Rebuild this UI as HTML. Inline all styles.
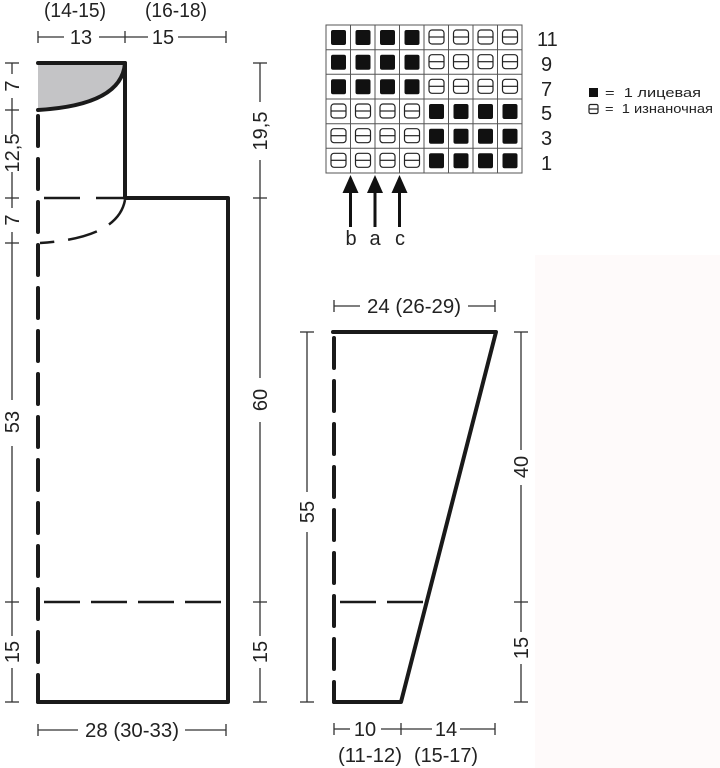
<!DOCTYPE html>
<html><head><meta charset="utf-8"><style>
html,body{margin:0;padding:0;background:#fff;}
svg{display:block;}
text{font-family:"Liberation Sans",sans-serif;fill:#222;}
</style></head><body>
<svg width="720" height="768" viewBox="0 0 720 768" xmlns="http://www.w3.org/2000/svg">
<rect x="535" y="255" width="185" height="513" fill="#fefafa"/>
<g stroke="#333" stroke-width="1.3" fill="none">
<line x1="38" y1="37" x2="64" y2="37"/><line x1="99" y1="37" x2="148" y2="37"/><line x1="178" y1="37" x2="226" y2="37"/>
<line x1="38" y1="31" x2="38" y2="43"/><line x1="125" y1="31" x2="125" y2="43"/><line x1="226" y1="31" x2="226" y2="43"/>
<line x1="12" y1="63" x2="12" y2="74"/><line x1="12" y1="98" x2="12" y2="134"/><line x1="12" y1="172" x2="12" y2="208"/><line x1="12" y1="232" x2="12" y2="400"/><line x1="12" y1="446" x2="12" y2="636"/><line x1="12" y1="668" x2="12" y2="702"/>
<line x1="5" y1="63" x2="19" y2="63"/><line x1="5" y1="110" x2="19" y2="110"/><line x1="5" y1="198" x2="19" y2="198"/><line x1="5" y1="243" x2="19" y2="243"/><line x1="5" y1="602" x2="19" y2="602"/><line x1="5" y1="702" x2="19" y2="702"/>
<line x1="260" y1="63" x2="260" y2="102"/><line x1="260" y1="160" x2="260" y2="378"/><line x1="260" y1="422" x2="260" y2="636"/><line x1="260" y1="668" x2="260" y2="702"/>
<line x1="253" y1="63" x2="267" y2="63"/><line x1="253" y1="198" x2="267" y2="198"/><line x1="253" y1="602" x2="267" y2="602"/><line x1="253" y1="702" x2="267" y2="702"/>
<line x1="38" y1="730" x2="78" y2="730"/><line x1="185" y1="730" x2="226" y2="730"/><line x1="38" y1="724" x2="38" y2="736"/><line x1="226" y1="724" x2="226" y2="736"/>
<line x1="334" y1="306" x2="360" y2="306"/><line x1="468" y1="306" x2="495" y2="306"/><line x1="334" y1="300" x2="334" y2="312"/><line x1="495" y1="300" x2="495" y2="312"/>
<line x1="307" y1="332" x2="307" y2="492"/><line x1="307" y1="532" x2="307" y2="702"/><line x1="300" y1="332" x2="314" y2="332"/><line x1="300" y1="702" x2="314" y2="702"/>
<line x1="521" y1="332" x2="521" y2="450"/><line x1="521" y1="485" x2="521" y2="632"/><line x1="521" y1="664" x2="521" y2="702"/>
<line x1="514" y1="332" x2="528" y2="332"/><line x1="514" y1="602" x2="528" y2="602"/><line x1="514" y1="702" x2="528" y2="702"/>
<line x1="334" y1="729" x2="350" y2="729"/><line x1="381" y1="729" x2="432" y2="729"/><line x1="460" y1="729" x2="495" y2="729"/>
<line x1="334" y1="723" x2="334" y2="735"/><line x1="401" y1="723" x2="401" y2="735"/><line x1="495" y1="723" x2="495" y2="735"/>
</g>
<path d="M38 63 L125 63 Q122 105 38 110 Z" fill="#c4c4c6"/>
<g stroke="#1a1a1a" stroke-width="4" fill="none" stroke-linecap="round" stroke-linejoin="round">
<path d="M38 63 L125 63 Q122 105 38 110"/>
<path d="M125 63 L125 198 L228 198 L228 702 L38 702"/>
<path d="M38 116 L38 702" stroke-dasharray="30 13"/>
<path d="M333 332 L496 332 L401 702 L334 702"/>
<path d="M334 338 L334 702" stroke-dasharray="30 13"/>
</g>
<g stroke="#1a1a1a" stroke-width="2.5" fill="none">
<path d="M44 198 L125 198" stroke-dasharray="36 16"/>
<path d="M125 200 Q118 238 40 243" stroke-dasharray="30 14"/>
<path d="M44 602 L222 602" stroke-dasharray="36 11"/>
<path d="M340 602 L425 602" stroke-dasharray="36 11"/>
</g>
<g font-size="20" text-anchor="middle">
<text x="75" y="17" textLength="62" lengthAdjust="spacingAndGlyphs">(14-15)</text><text x="176" y="17" textLength="62" lengthAdjust="spacingAndGlyphs">(16-18)</text>
<text x="81" y="44">13</text><text x="163" y="44">15</text>
<text x="132" y="737" textLength="94" lengthAdjust="spacingAndGlyphs">28 (30-33)</text>
<text x="414" y="313" textLength="94" lengthAdjust="spacingAndGlyphs">24 (26-29)</text>
<text x="365" y="736">10</text><text x="446" y="736">14</text>
<text x="370" y="762" textLength="64" lengthAdjust="spacingAndGlyphs">(11-12)</text><text x="446" y="762" textLength="64" lengthAdjust="spacingAndGlyphs">(15-17)</text>
<text transform="translate(19,86) rotate(-90)">7</text>
<text transform="translate(19,153) rotate(-90)">12,5</text>
<text transform="translate(19,220) rotate(-90)">7</text>
<text transform="translate(19,422) rotate(-90)">53</text>
<text transform="translate(19,652) rotate(-90)">15</text>
<text transform="translate(267,131) rotate(-90)">19,5</text>
<text transform="translate(267,400) rotate(-90)">60</text>
<text transform="translate(267,652) rotate(-90)">15</text>
<text transform="translate(314,512) rotate(-90)">55</text>
<text transform="translate(528,467) rotate(-90)">40</text>
<text transform="translate(528,648) rotate(-90)">15</text>
</g>
<rect x="326" y="25" width="196" height="148" fill="#fff" stroke="#555" stroke-width="1"/>
<g stroke="#555" stroke-width="1">
<line x1="350.5" y1="25" x2="350.5" y2="173"/><line x1="375" y1="25" x2="375" y2="173"/><line x1="399.5" y1="25" x2="399.5" y2="173"/><line x1="424" y1="25" x2="424" y2="173"/><line x1="448.5" y1="25" x2="448.5" y2="173"/><line x1="473" y1="25" x2="473" y2="173"/><line x1="497.5" y1="25" x2="497.5" y2="173"/>
<line x1="326" y1="49.7" x2="522" y2="49.7"/><line x1="326" y1="74.3" x2="522" y2="74.3"/><line x1="326" y1="99" x2="522" y2="99"/><line x1="326" y1="123.7" x2="522" y2="123.7"/><line x1="326" y1="148.3" x2="522" y2="148.3"/>
</g>
<g fill="#111">
<rect x="331" y="30" width="15" height="15" rx="2"/><rect x="355.5" y="30" width="15" height="15" rx="2"/><rect x="380" y="30" width="15" height="15" rx="2"/><rect x="404.5" y="30" width="15" height="15" rx="2"/>
<rect x="331" y="54.7" width="15" height="15" rx="2"/><rect x="355.5" y="54.7" width="15" height="15" rx="2"/><rect x="380" y="54.7" width="15" height="15" rx="2"/><rect x="404.5" y="54.7" width="15" height="15" rx="2"/>
<rect x="331" y="79.3" width="15" height="15" rx="2"/><rect x="355.5" y="79.3" width="15" height="15" rx="2"/><rect x="380" y="79.3" width="15" height="15" rx="2"/><rect x="404.5" y="79.3" width="15" height="15" rx="2"/>
<rect x="429" y="104" width="15" height="15" rx="2"/><rect x="453.5" y="104" width="15" height="15" rx="2"/><rect x="478" y="104" width="15" height="15" rx="2"/><rect x="502.5" y="104" width="15" height="15" rx="2"/>
<rect x="429" y="128.7" width="15" height="15" rx="2"/><rect x="453.5" y="128.7" width="15" height="15" rx="2"/><rect x="478" y="128.7" width="15" height="15" rx="2"/><rect x="502.5" y="128.7" width="15" height="15" rx="2"/>
<rect x="429" y="153.3" width="15" height="15" rx="2"/><rect x="453.5" y="153.3" width="15" height="15" rx="2"/><rect x="478" y="153.3" width="15" height="15" rx="2"/><rect x="502.5" y="153.3" width="15" height="15" rx="2"/>
</g>
<defs><g id="p"><rect x="0" y="0" width="15" height="14" rx="3"/><line x1="0" y1="7" x2="15" y2="7"/></g></defs>
<g fill="none" stroke="#222" stroke-width="1.2">
<use href="#p" x="429" y="30"/><use href="#p" x="453.5" y="30"/><use href="#p" x="478" y="30"/><use href="#p" x="502.5" y="30"/>
<use href="#p" x="429" y="54.7"/><use href="#p" x="453.5" y="54.7"/><use href="#p" x="478" y="54.7"/><use href="#p" x="502.5" y="54.7"/>
<use href="#p" x="429" y="79.3"/><use href="#p" x="453.5" y="79.3"/><use href="#p" x="478" y="79.3"/><use href="#p" x="502.5" y="79.3"/>
<use href="#p" x="331" y="104"/><use href="#p" x="355.5" y="104"/><use href="#p" x="380" y="104"/><use href="#p" x="404.5" y="104"/>
<use href="#p" x="331" y="128.7"/><use href="#p" x="355.5" y="128.7"/><use href="#p" x="380" y="128.7"/><use href="#p" x="404.5" y="128.7"/>
<use href="#p" x="331" y="153.3"/><use href="#p" x="355.5" y="153.3"/><use href="#p" x="380" y="153.3"/><use href="#p" x="404.5" y="153.3"/>
<rect x="589" y="104.5" width="9" height="9" rx="1.5"/><line x1="589" y1="109" x2="598" y2="109"/>
</g>
<rect x="589" y="88" width="9" height="9" fill="#111"/>
<g font-size="20" text-anchor="start">
<text x="537" y="46">11</text><text x="541" y="71">9</text><text x="541" y="96">7</text><text x="541" y="120">5</text><text x="541" y="145">3</text><text x="541" y="170">1</text>
</g>
<g font-size="12.5"><text x="605" y="97" textLength="96" lengthAdjust="spacingAndGlyphs">=&#160;&#160;1 лицевая</text><text x="605" y="113" textLength="108" lengthAdjust="spacingAndGlyphs">=&#160;&#160;1 изнаночная</text></g>
<g fill="#111">
<rect x="349" y="190" width="3" height="37"/><path d="M342.5 193 L350.5 175 L358.5 193 Z"/>
<rect x="373.5" y="190" width="3" height="37"/><path d="M367 193 L375 175 L383 193 Z"/>
<rect x="398" y="190" width="3" height="37"/><path d="M391.5 193 L399.5 175 L407.5 193 Z"/>
</g>
<g font-size="20" text-anchor="middle"><text x="351" y="245">b</text><text x="375" y="245">a</text><text x="400" y="245">c</text></g>
</svg>
</body></html>
